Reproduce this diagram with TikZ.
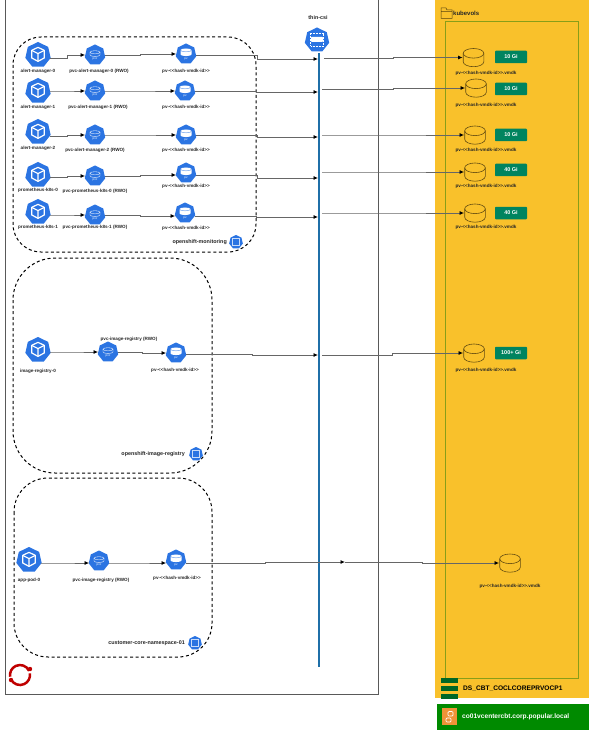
\documentclass[tikz,border=0pt]{standalone}
\usepackage{fontspec}
\setmainfont{Liberation Sans}
\usetikzlibrary{shapes.geometric,calc,arrows.meta}
\definecolor{kubeblue}{HTML}{2B74E2}
\definecolor{volyellow}{HTML}{F9C12B}
\definecolor{gibgreen}{HTML}{00845F}
\definecolor{vcgreen}{HTML}{008A00}
\definecolor{csiblue}{HTML}{1F6FA8}
\newcommand{\hashid}{pv-{<}{<}hash-vmdk-id{>}{>}}
\tikzset{
  kube/.style={regular polygon,regular polygon sides=7,fill=kubeblue,inner sep=0pt},
  podicon/.style={kube,minimum size=26,path picture={
    \coordinate (cc) at (path picture bounding box.center);
    \draw[white,line width=1.2pt,line join=round] ($(cc)+(0,-7)$) -- ++(6.3,3) -- ++(0,7.6) -- ++(-6.3,3.4) -- ++(-6.3,-3.4) -- ++(0,-7.6) -- cycle;
    \draw[white,line width=1.1pt,line join=round] ($(cc)+(-6.3,-4)$) -- ($(cc)+(0,-.8)$) -- ($(cc)+(6.3,-4)$) ($(cc)+(0,-.8)$) -- ($(cc)+(0,7)$);}},
  pvcicon/.style={kube,minimum size=21,path picture={
    \coordinate (cc) at (path picture bounding box.center);
    \draw[white,line width=.35pt] ($(cc)+(-5,-2.2)$) -- ++(0,2.6) arc[start angle=180,end angle=0,x radius=5,y radius=1.6] -- ++(0,-2.6);
    \draw[white,line width=.35pt] ($(cc)+(0,-2.2)$) ellipse[x radius=5,y radius=1.6];
    \node[white,font=\fontsize{3}{3}\selectfont,inner sep=0pt] at ($(cc)+(0,5)$) {pvc};}},
  pvicon/.style={kube,minimum size=21,path picture={
    \coordinate (cc) at (path picture bounding box.center);
    \fill[white] ($(cc)+(-5.5,-3.4)$) -- ++(0,4.4) arc[start angle=180,end angle=0,x radius=5.5,y radius=1.6] -- ++(0,-4.4) arc[start angle=0,end angle=-180,x radius=5.5,y radius=1.6];
    \draw[kubeblue,line width=.3pt] ($(cc)+(-5.5,-3.2)$) arc[start angle=180,end angle=0,x radius=5.5,y radius=1.6];
    \node[white,font=\fontsize{3}{3}\selectfont,inner sep=0pt] at ($(cc)+(0,5.4)$) {pv};}},
  nsicon/.style={kube,minimum size=14,path picture={
    \coordinate (cc) at (path picture bounding box.center);
    \draw[white!75!kubeblue,line width=.4pt] ($(cc)+(-3.6,-3.6)$) rectangle ($(cc)+(3.6,3.6)$);}},
  csiicon/.style={kube,minimum size=25,path picture={
    \coordinate (cc) at (path picture bounding box.center);
    \draw[white,line width=.5pt,densely dotted] ($(cc)+(-6.5,-6.5)$) rectangle ($(cc)+(6.5,6.5)$);
    \fill[white,rounded corners=.8pt] ($(cc)+(-6,-2.5)$) rectangle ($(cc)+(6,2.5)$);}},
  disk/.style={rectangle,minimum width=21.5,minimum height=19,inner sep=0pt,path picture={
    \coordinate (cc) at (path picture bounding box.center);
    \draw[black!60!volyellow,line width=.6pt] ($(cc)+(0,-4.2)$) ellipse[x radius=10.3,y radius=4.8];
    \draw[black!60!volyellow,line width=.6pt] ($(cc)+(-10.3,-4.2)$) -- ++(0,8.4) arc[start angle=180,end angle=0,x radius=10.3,y radius=5] -- ++(0,-8.4);}},
  badge/.style={rectangle,rounded corners=.8pt,fill=gibgreen,text=white,minimum width=32,minimum height=12.5,inner sep=0pt,font=\fontsize{5.5}{6}\selectfont\bfseries},
  txt/.style={inner sep=0pt,font=\fontsize{4.6}{5}\selectfont\bfseries,text=black!85},
  nstxt/.style={inner sep=0pt,font=\fontsize{5.4}{6}\selectfont\bfseries,text=black!85},
  conn/.style={draw=black!60,line width=.8pt,-{Latex[length=4.5pt,width=4pt,black]}},
  jog/.style={to path={-| ($(\tikztostart)!.5!(\tikztotarget)$) |- (\tikztotarget)}},
  nsbox/.style={draw=black,line width=1pt,dash pattern=on 3pt off 2.6pt}
}
\begin{document}
\begin{tikzpicture}[x=1pt,y=-1pt]
  \useasboundingbox (0,0) rectangle (589,730);

  % storage side
  \fill[volyellow] (435,0) rectangle (589,698);
  \draw[green!45!black!45!volyellow,line width=.6pt] (445,21) rectangle (578,678);
  \draw[black!65!volyellow,line width=.5pt] (441,18.5) -- (441,8) -- (446,8) -- (447,10) -- (452,10) -- (452,18.5) -- cycle (441,11.5) -- (452,11.5);
  \node[nstxt,anchor=west,font=\fontsize{6}{7}\selectfont\bfseries] (kubevols) at (453,13) {kubevols};

  % cluster and namespaces
  \draw[black!65,line width=.8pt] (5,-1) rectangle (378,694);
  \draw[nsbox,rounded corners=28] (13,37) rectangle (256,252);
  \draw[nsbox,rounded corners=42] (13,258) rectangle (212,473);
  \draw[nsbox,rounded corners=34] (14,478) rectangle (212,657);

  % pods
  \node[podicon] (podA) at (38,55) {};
  \node[podicon] (podB) at (38,91) {};
  \node[podicon] (podC) at (38,132) {};
  \node[podicon] (podD) at (38,175) {};
  \node[podicon] (podE) at (38,212) {};
  \node[podicon] (podF) at (38,350) {};
  \node[podicon] (podG) at (29,560) {};

  % claims
  \node[pvcicon] (pvcA) at (95,55) {};
  \node[pvcicon] (pvcB) at (95,91) {};
  \node[pvcicon] (pvcC) at (95,135) {};
  \node[pvcicon] (pvcD) at (95,176) {};
  \node[pvcicon] (pvcE) at (95,215) {};
  \node[pvcicon] (pvcF) at (108,352) {};
  \node[pvcicon] (pvcG) at (99,561) {};

  % volumes
  \node[pvicon] (pvA) at (186,54) {};
  \node[pvicon] (pvB) at (185,91) {};
  \node[pvicon] (pvC) at (186,135) {};
  \node[pvicon] (pvD) at (186,173) {};
  \node[pvicon] (pvE) at (185,213) {};
  \node[pvicon] (pvF) at (176,353) {};
  \node[pvicon] (pvG) at (176,560) {};

  % disks and sizes
  \node[disk] (diskA) at (473.5,57.5) {};
  \node[disk] (diskB) at (476,88) {};
  \node[disk] (diskC) at (475,135) {};
  \node[disk] (diskD) at (475,172) {};
  \node[disk] (diskE) at (475,213) {};
  \node[disk] (diskF) at (474,353) {};
  \node[disk] (diskG) at (510,563) {};
  \node[badge] (sizeA) at (511,57) {10 Gi};
  \node[badge] (sizeB) at (511,89) {10 Gi};
  \node[badge] (sizeC) at (511,135) {10 Gi};
  \node[badge] (sizeD) at (511,170) {40 Gi};
  \node[badge] (sizeE) at (511,213) {40 Gi};
  \node[badge] (sizeF) at (511,353) {100+ Gi};

  % texts under the icons
  \foreach \id/\x/\y/\lbl in {
    lpodA/38/71/alert-manager-0,lpodB/38/107/alert-manager-1,lpodC/38/148/alert-manager-2,
    lpodD/38/190/prometheus-k8s-0,lpodE/38/227/prometheus-k8s-1,lpodF/38/371/image-registry-0,lpodG/29/580/app-pod-0,
    lpvcA/99/71/pvc-alert-manager-0 (RWO),lpvcB/98/107/pvc-alert-manager-1 (RWO),lpvcC/95/150/pvc-alert-manager-2 (RWO),
    lpvcD/95/191/pvc-prometheus-k8s-0 (RWO),lpvcE/95/227/pvc-prometheus-k8s-1 (RWO),lpvcF/129/339/pvc-image-registry (RWO),lpvcG/101/580/pvc-image-registry (RWO),
    lpvA/186/71/\hashid,lpvB/186/107/\hashid,lpvC/186/150/\hashid,lpvD/186/186/\hashid,
    lpvE/186/228/\hashid,lpvF/175/370/\hashid,lpvG/177/578/\hashid,
    ldiskA/486/73/\hashid.vmdk,ldiskB/486/105/\hashid.vmdk,ldiskC/486/150/\hashid.vmdk,
    ldiskD/486/186/\hashid.vmdk,ldiskE/486/227/\hashid.vmdk,ldiskF/486/370/\hashid.vmdk,ldiskG/510/586/\hashid.vmdk}
    \node[txt] (\id) at (\x,\y) {\lbl};

  % namespace tags
  \node[nsicon] (nsA) at (236,242) {};
  \node[nsicon] (nsB) at (196,454) {};
  \node[nsicon] (nsC) at (195,643) {};
  \node[nstxt,anchor=east] (lnsA) at (227,242) {openshift-monitoring};
  \node[nstxt,anchor=east] (lnsB) at (185,454) {openshift-image-registry};
  \node[nstxt,anchor=east] (lnsC) at (185,643) {customer-core-namespace-01};

  % storage class
  \node[csiicon] (csi) at (317,40) {};
  \node[nstxt] (lcsi) at (318,18) {thin-csi};
  \coordinate (csiend) at (319,667);
  \draw[csiblue,line width=1.3pt] (319,53) -- (csiend);

  \coordinate (hitA) at (318,59);
  \coordinate (hitB) at (318,92);
  \coordinate (hitC) at (318,137);
  \coordinate (hitD) at (318,178);
  \coordinate (hitE) at (318,217);
  \coordinate (hitF) at (318,355);
  \coordinate (hitG) at (345,562);
  \coordinate (outA) at (324,58);
  \coordinate (outB) at (322,89);
  \coordinate (outC) at (322,135);
  \coordinate (outD) at (322,172);
  \coordinate (outE) at (322,213);
  \coordinate (outF) at (322,355);

  % start and end offsets
  \foreach \from/\to/\a/\b in {podA/pvcA/3/0,podB/pvcB/0/0,podC/pvcC/4/0,podD/pvcD/2/0,podE/pvcE/3/0,podF/pvcF/2/0,podG/pvcG/3/2,
                         pvcA/pvA/0/0,pvcB/pvB/0/0,pvcC/pvC/0/0,pvcD/pvD/0/2,pvcE/pvE/0/3,pvcF/pvF/0/0,pvcG/pvG/2/3}
    \draw[conn] ($(\from.east)+(0,\a)$) to[jog] ($(\to.west)+(0,\b)$);
  \foreach \from/\to/\a in {pvA/hitA/1,pvB/hitB/0,pvC/hitC/0,pvD/hitD/2,pvE/hitE/3,pvF/hitF/1,pvG/hitG/3}
    \draw[conn] ($(\from.east)+(0,\a)$) to[jog] (\to);
  \foreach \from/\to in {outA/diskA,outB/diskB,outC/diskC,outD/diskD,outE/diskE,outF/diskF,hitG/diskG}
    \draw[conn] (\from) to[jog] (\to.west);

  % red logo
  \draw[red!75!black,line width=2.5pt] (20,675) ++(-25:10) arc[start angle=-25,end angle=-190,radius=10];
  \draw[red!75!black,line width=2.5pt] (20,675) ++(-205:10) arc[start angle=-205,end angle=-370,radius=10];
  \fill[red!75!black] (11,680) circle[radius=2.2] (30,669) circle[radius=2.2];

  % datastore and vcenter
  \foreach \y in {678,686,694}
    \fill[green!30!black!85!cyan] (441,\y) rectangle (458,\y+5);
  \node[nstxt,anchor=west,font=\fontsize{6.6}{8}\selectfont\bfseries,text=black] (dsname) at (463,689) {DS\_CBT\_COCLCOREPRVOCP1};
  \fill[vcgreen] (437,704) rectangle (589,730);
  \node[rectangle,fill=orange!70!brown!85,minimum width=15,minimum height=17,inner sep=0pt] (vcicon) at (449.5,716.5) {};
  \draw[white,line width=.7pt,rounded corners=1pt] (446,718) rectangle (451,722) (448,711.5) rectangle (453,716);
  \node[nstxt,anchor=west,font=\fontsize{6.6}{8}\selectfont\bfseries,text=white] (vcname) at (462,716.5) {co01vcentercbt.corp.popular.local};
\end{tikzpicture}
\end{document}
